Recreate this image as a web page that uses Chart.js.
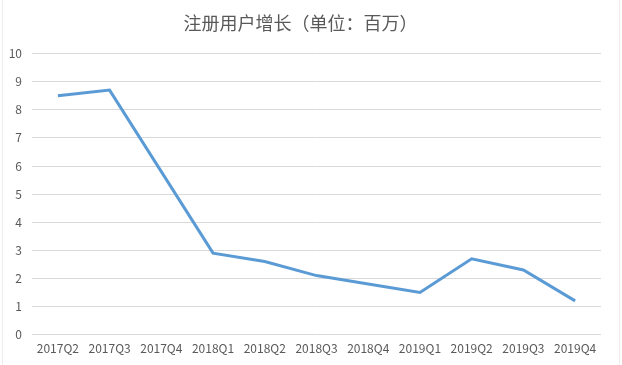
<!DOCTYPE html>
<html>
<head>
<meta charset="utf-8">
<script src="https://cdn.jsdelivr.net/npm/chart.js@4/dist/chart.umd.min.js"></script>
<style>
html,body{margin:0;padding:0;background:#fff;}
#wrap{width:622px;height:365px;position:relative;}
</style>
</head>
<body>
<div id="wrap"><canvas id="c"></canvas></div>
<script>
const categories = ['2017Q2','2017Q3','2017Q4','2018Q1','2018Q2','2018Q3','2018Q4','2019Q1','2019Q2','2019Q3','2019Q4'];
const registeredUsers = [8.5, 8.7, 5.8, 2.9, 2.6, 2.1, 1.8, 1.5, 2.7, 2.3, 1.2];
const chartTitle = '注册用户增长（单位：百万）';

const FONT = "'Noto Sans CJK SC', 'Noto Sans', sans-serif";
const borderPlugin = {
  id: 'frame',
  beforeDraw(chart) {
    const ctx = chart.ctx;
    ctx.save();
    ctx.strokeStyle = '#ececec';
    ctx.lineWidth = 1;
    ctx.beginPath();
    ctx.moveTo(2.5, 0); ctx.lineTo(2.5, chart.height);
    ctx.moveTo(619.5, 0); ctx.lineTo(619.5, chart.height);
    ctx.stroke();
    ctx.restore();
  }
};

new Chart(document.getElementById('c'), {
  type: 'line',
  data: {
    labels: categories,
    datasets: [{
      data: registeredUsers,
      borderColor: '#5B9BD5',
      backgroundColor: '#5B9BD5',
      borderWidth: 3,
      pointRadius: 0,
      tension: 0,
      fill: false
    }]
  },
  plugins: [borderPlugin],
  options: {
    responsive: true,
    maintainAspectRatio: false,
    animation: false,
    layout: { padding: { left: 0, right: 21, top: 0, bottom: 2 } },
    plugins: {
      legend: { display: false },
      tooltip: { enabled: false },
      title: {
        display: true,
        text: chartTitle,
        color: '#595959',
        font: { family: FONT, size: 18, weight: 'normal' },
        padding: { top: 12, bottom: 20 }
      }
    },
    scales: {
      x: {
        offset: true,
        grid: { display: false, drawTicks: false },
        border: { display: false },
        ticks: {
          color: '#595959',
          font: { family: FONT, size: 12 },
          padding: 7,
          maxRotation: 0,
          autoSkip: false
        }
      },
      y: {
        min: 0,
        max: 10,
        border: { display: false },
        grid: { color: '#d9d9d9', lineWidth: 1, drawTicks: false },
        ticks: {
          stepSize: 1,
          color: '#595959',
          font: { family: FONT, size: 12 },
          padding: 10
        },
        afterFit(scale) { scale.width = 32; }
      }
    }
  }
});
</script>
</body>
</html>
